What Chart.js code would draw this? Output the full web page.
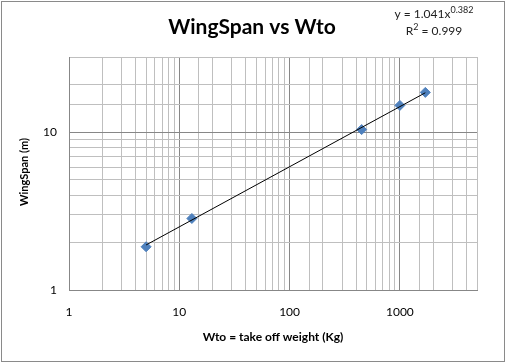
<!DOCTYPE html>
<html>
<head>
<meta charset="utf-8">
<script src="https://cdn.jsdelivr.net/npm/chart.js@4"></script>
<style>
    body { margin: 0; background: #fff; }
    canvas { display: block; }
</style>
</head>
<body>
<canvas id="wingChart" width="507" height="364"></canvas>
<script>
// measured points: take off weight (kg) vs wing span (m)
const weights = [5, 13, 450, 1000, 1700];
const spans = [1.88, 2.84, 10.4, 14.8, 17.9];

// power trendline end points, y = 1.041x^0.382
const trendWeights = [5, 1700];
const trendSpans = [1.93, 17.8];

const xTickLabels = [1, 10, 100, 1000];
const yTickLabels = [1, 10];
const xMajor = [10, 100, 1000];
const yMajor = [10];

const chartTitle = 'WingSpan vs Wto';
const xTitle = 'Wto = take off weight (Kg)';
const yTitle = 'WingSpan (m)';
const equation = { base: 'y = 1.041x', exp: '0.382', r2: ' = 0.999' };

const FONT = 'Lato, "Liberation Sans", sans-serif';

// titles, equation and outer frame
const decorations = {
    id: 'decorations',
    beforeDraw(chart) {
        const ctx = chart.ctx;
        ctx.save();
        ctx.fillStyle = '#fff';
        ctx.fillRect(0, 0, chart.width, chart.height);
        ctx.restore();
    },
    afterDraw(chart) {
        const ctx = chart.ctx;
        const area = chart.chartArea;
        ctx.save();

        ctx.strokeStyle = '#8a8a8a';
        ctx.lineWidth = 1;
        ctx.strokeRect(1.5, 1.5, 503, 360);

        ctx.fillStyle = '#000';
        ctx.textAlign = 'center';
        ctx.textBaseline = 'middle';
        ctx.font = 'bold 21px ' + FONT;
        ctx.fillText(chartTitle, 252, 27);

        ctx.font = 'bold 12px ' + FONT;
        ctx.fillText(xTitle, (area.left + area.right) / 2 + 0, 337);

        ctx.save();
        ctx.translate(24, 172);
        ctx.rotate(-Math.PI / 2);
        ctx.font = 'bold 11px ' + FONT;
        ctx.fillText(yTitle, 0, 0);
        ctx.restore();

        // trendline equation with superscripts
        ctx.textAlign = 'left';
        ctx.fillStyle = '#222';
        ctx.font = '12px ' + FONT;
        const baseW = ctx.measureText(equation.base).width;
        ctx.font = '9px ' + FONT;
        const expW = ctx.measureText(equation.exp).width;
        let x = 434 - (baseW + expW) / 2;
        ctx.font = '12px ' + FONT;
        ctx.fillText(equation.base, x, 14);
        ctx.font = '9px ' + FONT;
        ctx.fillText(equation.exp, x + baseW, 10);

        ctx.font = '12px ' + FONT;
        const rW = ctx.measureText('R').width;
        const tailW = ctx.measureText(equation.r2).width;
        ctx.font = '9px ' + FONT;
        const twoW = ctx.measureText('2').width;
        x = 434 - (rW + twoW + tailW) / 2;
        ctx.font = '12px ' + FONT;
        ctx.fillText('R', x, 31);
        ctx.font = '9px ' + FONT;
        ctx.fillText('2', x + rW, 27);
        ctx.font = '12px ' + FONT;
        ctx.fillText(equation.r2, x + rW + twoW, 31);

        ctx.restore();
    }
};

const ctx = document.getElementById('wingChart').getContext('2d');

new Chart(ctx, {
    type: 'scatter',
    data: {
        datasets: [
            {
                label: 'trend',
                data: trendWeights.map((w, i) => ({ x: w, y: trendSpans[i] })),
                showLine: true,
                borderColor: '#000',
                borderWidth: 1,
                pointRadius: 0,
                order: 0
            },
            {
                label: 'WingSpan',
                data: weights.map((w, i) => ({ x: w, y: spans[i] })),
                pointStyle: 'rectRot',
                pointRadius: 5,
                backgroundColor: '#4f81bd',
                borderColor: '#4f81bd',
                borderWidth: 1,
                order: 1
            }
        ]
    },
    options: {
        responsive: false,
        animation: false,
        layout: {
            padding: { left: 0, right: 30, top: 57, bottom: 0 }
        },
        scales: {
            x: {
                type: 'logarithmic',
                position: 'bottom',
                min: 1,
                max: 5000,
                afterFit: scale => { scale.height = 74; },
                grid: {
                    drawTicks: false,
                    color: c => xMajor.includes(c.tick.value) ? '#878787' : '#bfbfbf'
                },
                border: { display: true, color: '#878787' },
                ticks: {
                    autoSkip: false,
                    maxRotation: 0,
                    padding: 15,
                    color: '#000',
                    font: { family: FONT, size: 12 },
                    callback: value => xTickLabels.includes(value) ? String(value) : ''
                }
            },
            y: {
                type: 'logarithmic',
                min: 1,
                max: 30,
                afterFit: scale => { scale.width = 69; },
                grid: {
                    drawTicks: false,
                    color: c => yMajor.includes(c.tick.value) ? '#878787' : '#bfbfbf'
                },
                border: { display: true, color: '#878787' },
                ticks: {
                    autoSkip: false,
                    padding: 12,
                    color: '#000',
                    font: { family: FONT, size: 12 },
                    callback: value => yTickLabels.includes(value) ? String(value) : ''
                }
            }
        },
        plugins: {
            legend: { display: false },
            tooltip: { enabled: false }
        }
    },
    plugins: [decorations]
});
</script>
</body>
</html>
